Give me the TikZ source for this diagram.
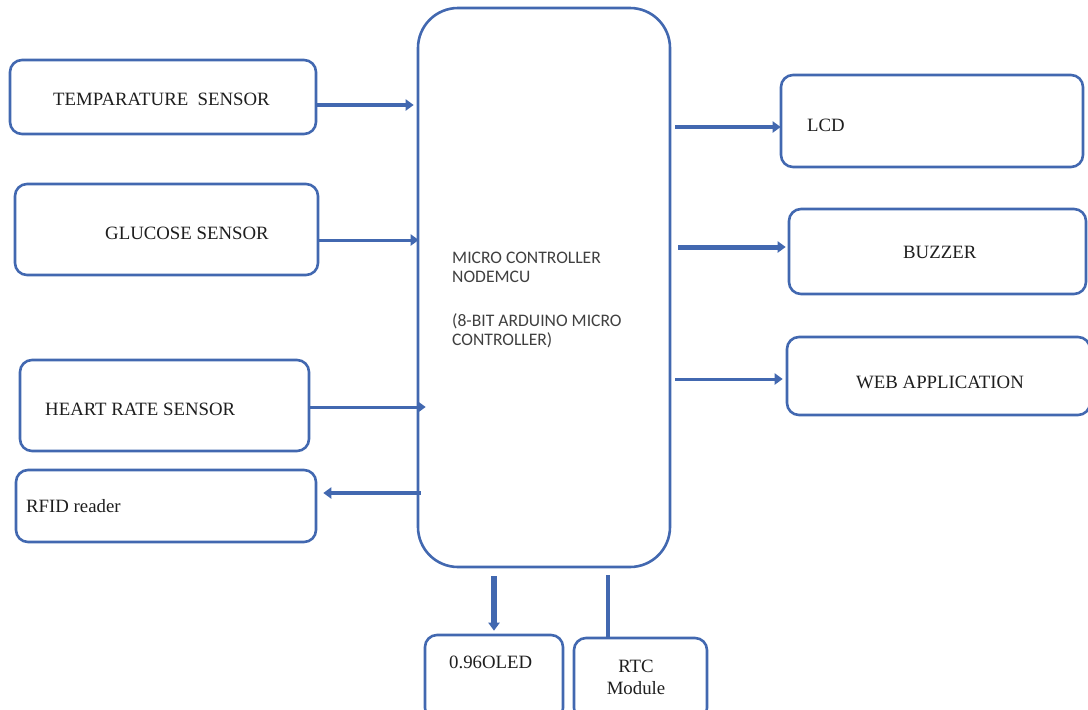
\documentclass[tikz,border=0pt]{standalone}
\usepackage{fontspec}
\setmainfont{Liberation Serif}
\newfontfamily\mcufont{Carlito}
\usepackage{tikz}
\usetikzlibrary{arrows.meta}
\definecolor{lineblue}{RGB}{66,104,176}
\definecolor{txtgray}{RGB}{30,30,30}

\begin{document}
\begin{tikzpicture}[x=1pt, y=-1pt,
		box/.style={draw=lineblue, line width=2.6pt, rounded corners=12pt, inner sep=0pt},
		lbl/.style={anchor=west, inner sep=0pt, text=txtgray, font=\fontsize{18.8}{20}\selectfont},
		link/.style={draw=lineblue, line width=3.5pt, -{Triangle[length=8pt,width=11pt]}}]
	\useasboundingbox (0,0) rectangle (1088,710);

	% blocks
	\node[box, minimum width=306, minimum height=74] (temp)  at (163,97)    {};
	\node[box, minimum width=303, minimum height=91] (gluc)  at (166.5,229.5) {};
	\node[box, minimum width=289, minimum height=91] (heart) at (164.5,405.5) {};
	\node[box, minimum width=300, minimum height=72] (rfid)  at (166,506)   {};
	\node[box, minimum width=252, minimum height=559, rounded corners=40pt] (mcu) at (544,287.5) {};
	\node[box, minimum width=302, minimum height=92] (lcd)   at (932,121)   {};
	\node[box, minimum width=297, minimum height=85] (buzz)  at (937.5,251.5) {};
	\node[box, minimum width=303, minimum height=78] (web)   at (938.5,376) {};
	\node[box, minimum width=138, minimum height=85] (oled)  at (494,677.5) {};
	\node[box, minimum width=133, minimum height=82] (rtc)   at (640.5,679) {};

	% texts
	\node[lbl] (tempT)  at (53,99)   {TEMPARATURE~ SENSOR};
	\node[lbl] (glucT)  at (105,233) {GLUCOSE SENSOR};
	\node[lbl] (heartT) at (45,409)  {HEART RATE SENSOR};
	\node[lbl] (rfidT)  at (26,506)  {RFID reader};
	\node[lbl] (lcdT)   at (807,125) {LCD};
	\node[lbl] (buzzT)  at (903,252) {BUZZER};
	\node[lbl] (webT)   at (856,382) {WEB APPLICATION};
	\node[lbl] (oledT)  at (449,662) {0.96OLED};
	\node[lbl, anchor=center, align=center, font=\fontsize{18.8}{22}\selectfont] (rtcT) at (636,677) {RTC\\Module};
	\node[anchor=north west, inner sep=0pt, align=left, text=txtgray!85,
		font=\mcufont\fontsize{17.6}{19}\selectfont] (mcuT) at (452,252)
		{MICRO CONTROLLER\\NODEMCU\\[25pt](8-BIT ARDUINO MICRO\\CONTROLLER)};

	% connections
	\draw[link, line width=4.5pt] (temp.east |- 0,105)  -- ([xshift=-3]mcu.west |- 0,105);
	\draw[link, line width=3pt]   (gluc.east |- 0,240)  -- ([xshift=2]mcu.west |- 0,240);
	\draw[link, line width=3pt]   (heart.east |- 0,407) -- ([xshift=9]mcu.west |- 0,407);
	\draw[link]                   ([xshift=4]mcu.west |- 0,493) -- ([xshift=6]rfid.east |- 0,493);
	\draw[link]                   ([xshift=4]mcu.east |- 0,127) -- ([xshift=1]lcd.west |- 0,127);
	\draw[link, line width=5pt]   ([xshift=7]mcu.east |- 0,247) -- ([xshift=-2]buzz.west |- 0,247);
	\draw[link, line width=3pt]   ([xshift=4]mcu.east |- 0,379) -- ([xshift=-3]web.west |- 0,379);
	\draw[link, line width=6pt]   ([yshift=-8]mcu.south -| oled.north) -- ([yshift=3]oled.north);
	\draw[draw=lineblue, line width=4pt] (608,575) -- (rtc.north -| 608,0);
\end{tikzpicture}
\end{document}
